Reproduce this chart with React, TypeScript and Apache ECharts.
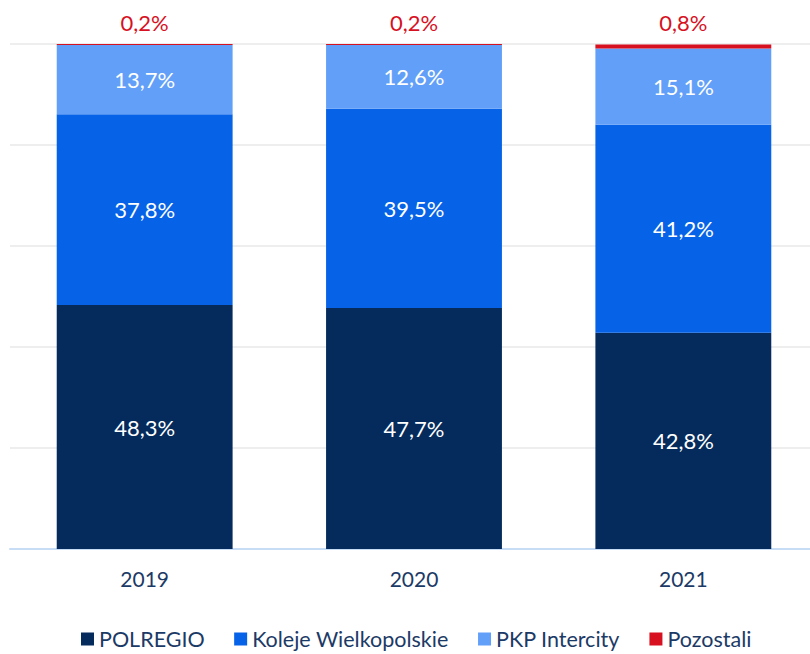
import React, { useEffect, useRef } from "react";
import * as echarts from "echarts";

const categories = ["2019", "2020", "2021"];
const polregio = [48.3, 47.7, 42.8];
const koleje = [37.8, 39.5, 41.2];
const pkp = [13.7, 12.6, 15.1];
const pozostali = [0.2, 0.2, 0.8];
const seriesNames = ["POLREGIO", "Koleje Wielkopolskie", "PKP Intercity", "Pozostali"];
const colors = ["#042b5c", "#0663e8", "#629ff8", "#d7111f"];

const fmt = (p: any) => p.value.toFixed(1).replace(".", ",") + "%";

export default function App() {
  const ref = useRef<HTMLDivElement>(null);
  useEffect(() => {
    if (!ref.current) return;
    const chart = echarts.init(ref.current, undefined, { renderer: "svg" });
    const data = [polregio, koleje, pkp, pozostali];
    chart.setOption({
      animation: false,
      textStyle: { fontFamily: "Lato" },
      grid: { left: 10, top: 44, right: 0, height: 505, containLabel: false },
      legend: {
        bottom: -1,
        left: 76,
        icon: "rect",
        itemWidth: 13,
        itemHeight: 13,
        itemGap: 29.5,
        textStyle: { fontFamily: "Lato", fontSize: 21.5, color: "#1c3a66" },
        data: seriesNames,
      },
      xAxis: {
        type: "category",
        data: categories,
        axisLine: { lineStyle: { color: "#c6ddf5", width: 2 } },
        axisTick: { show: false },
        axisLabel: { fontFamily: "Lato", fontSize: 21, color: "#1c3a66", margin: 19 },
      },
      yAxis: {
        type: "value",
        min: 0,
        max: 100,
        interval: 20,
        axisLabel: { show: false },
        axisLine: { show: false },
        axisTick: { show: false },
        splitLine: { lineStyle: { color: "#eeeeee", width: 2 } },
      },
      series: seriesNames.map((name, i) => ({
        name,
        type: "bar",
        stack: "total",
        barWidth: "65.3%",
        data: data[i],
        itemStyle: { color: colors[i] },
        label: i === 3
          ? { show: true, position: "top", distance: 11, color: "#d7111f", fontSize: 22, fontFamily: "Lato", formatter: fmt }
          : { show: true, position: "inside", color: "#ffffff", fontSize: 22, fontFamily: "Lato", formatter: fmt },
      })),
    });
    return () => chart.dispose();
  }, []);
  return (
    <div style={{ position: "absolute", left: 0, top: 0, width: 810, height: 654, overflow: "hidden" }}>
      <div ref={ref} style={{ width: 818, height: 654 }} />
    </div>
  );
}
